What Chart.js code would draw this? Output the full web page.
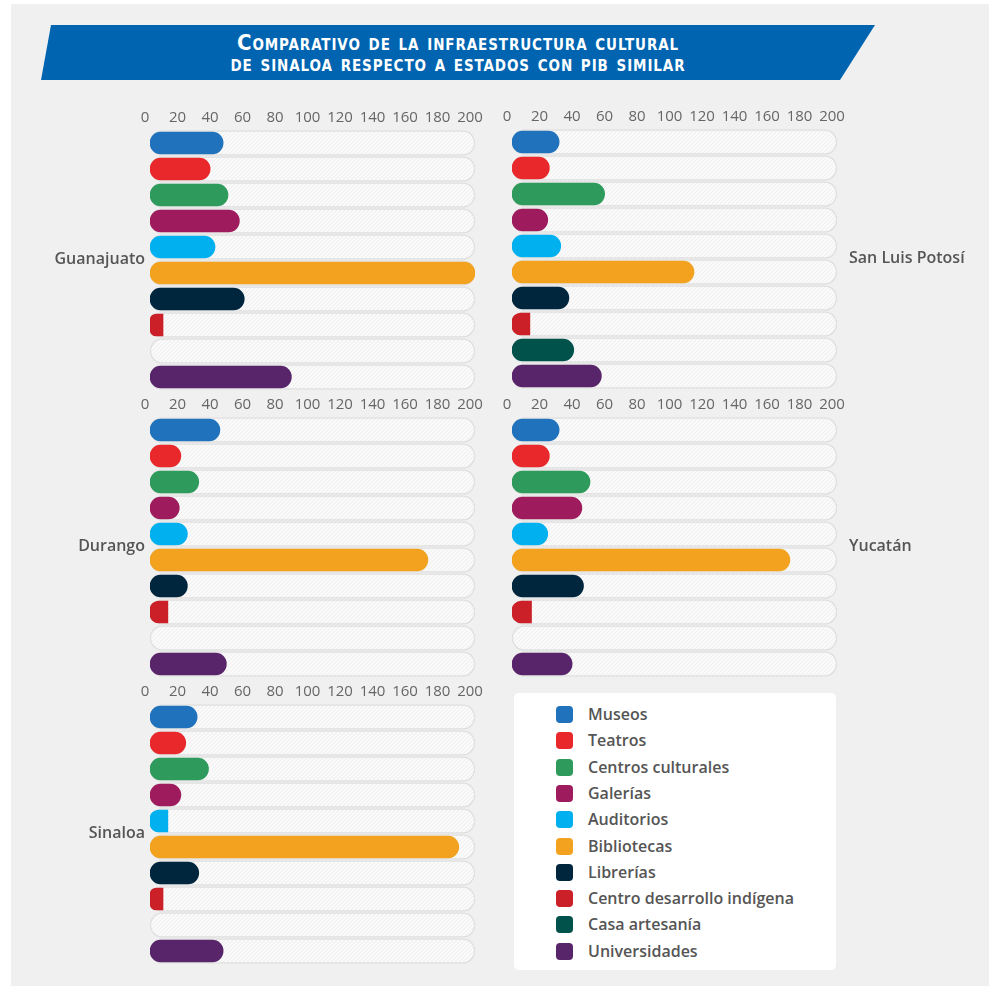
<!DOCTYPE html>
<html>
<head>
<meta charset="utf-8">
<script src="https://cdn.jsdelivr.net/npm/chart.js@4.4.1/dist/chart.umd.min.js"></script>
<style>
  html, body { margin: 0; padding: 0; background: #ffffff; }
  body { width: 989px; height: 986px; position: relative; overflow: hidden; font-family: "Open Sans", "Noto Sans", sans-serif; }
  #bg { position: absolute; left: 11px; top: 4px; width: 978px; height: 982px; background: #f0f0f0; }
  #banner { position: absolute; left: 41px; top: 25px; width: 834px; height: 55px; background: #0064b0;
            clip-path: polygon(10px 0, 834px 0, 799px 55px, 0 55px); }
  #title { position: absolute; left: 41px; top: 32px; width: 834px; text-align: center; color: #fff;
           font-family: "DejaVu Sans Condensed", "DejaVu Sans", sans-serif; font-stretch: condensed; font-weight: bold;
           font-variant: small-caps; font-size: 22px; line-height: 21px; letter-spacing: 0.9px; }
  #title .l2 { text-transform: lowercase; }
  canvas { position: absolute; }
  .state { position: absolute; font-weight: 600; font-size: 16px; color: #555; line-height: 20px; white-space: nowrap; }
  .state.r { text-align: right; }
  #legend { position: absolute; left: 514px; top: 693px; width: 322px; height: 277px; background: #fff; border-radius: 5px; }
  .li { position: absolute; left: 42px; height: 20px; line-height: 20px; font-weight: 600; font-size: 16px; color: #555; white-space: nowrap; }
  .li span.sw { position: absolute; left: 0; top: 2px; width: 17px; height: 17px; border-radius: 4px; }
  .li span.tx { position: absolute; left: 32px; top: 0; }
</style>
</head>
<body>
<div id="bg"></div>
<div id="banner"></div>
<div id="title"><div>Comparativo de la infraestructura cultural</div><div class="l2">de Sinaloa respecto a estados con PIB similar</div></div>
<div id="legend"></div>
<script>
// ---------- DATA ----------
const categories = ['Museos', 'Teatros', 'Centros culturales', 'Galerías', 'Auditorios', 'Bibliotecas', 'Librerías', 'Centro desarrollo indígena', 'Casa artesanía', 'Universidades'];
const states = ['Guanajuato', 'San Luis Potosí', 'Durango', 'Yucatán', 'Sinaloa'];
const guanajuato    = [45, 37, 48, 55, 40, 200, 58, 8, 0, 87];
const sanLuisPotosi = [29, 23, 57, 22, 30, 112, 35, 11, 38, 55];
const durango       = [43, 19, 30, 18, 23, 171, 23, 11, 0, 47];
const yucatan       = [29, 23, 48, 43, 22, 171, 44, 12, 0, 37];
const sinaloa       = [29, 22, 36, 19, 11, 190, 30, 8, 0, 45];
const tickValues    = [0, 20, 40, 60, 80, 100, 120, 140, 160, 180, 200];
const axisMax = 200;

// ---------- STYLES ----------
const colors = ['#1f72bb', '#e8282b', '#2e9a5b', '#9e1c5e', '#00b0ef', '#f3a21f', '#00263e', '#cb2027', '#00524a', '#58246a'];

// panel layout: plot area in page pixels
const panels = [
  { data: guanajuato,    x0: 150, x1: 475, top: 127,   bottom: 389.5, label: 'left' },
  { data: sanLuisPotosi, x0: 512, x1: 837, top: 125.5, bottom: 388,   label: 'right' },
  { data: durango,       x0: 150, x1: 475, top: 414,   bottom: 676.5, label: 'left' },
  { data: yucatan,       x0: 512, x1: 837, top: 414,   bottom: 676.5, label: 'right' },
  { data: sinaloa,       x0: 150, x1: 475, top: 701,   bottom: 963.5, label: 'left' }
];

function makeTrackPattern() {
  const c = document.createElement('canvas');
  c.width = 4; c.height = 4;
  const g = c.getContext('2d');
  g.fillStyle = '#fafafa';
  g.fillRect(0, 0, 4, 4);
  g.strokeStyle = '#ebebeb';
  g.lineWidth = 0.8;
  g.beginPath();
  g.moveTo(0, 4); g.lineTo(4, 0);
  g.moveTo(-1, 1); g.lineTo(1, -1);
  g.moveTo(3, 5); g.lineTo(5, 3);
  g.stroke();
  return g.createPattern(c, 'repeat');
}
const trackPattern = makeTrackPattern();

const PADX = 20, PADTOP = 5, AXISH = 21, PADBOT = 4;

panels.forEach((p, i) => {
  const cv = document.createElement('canvas');
  const w = (p.x1 - p.x0) + 2 * PADX;
  const h = (p.bottom - p.top) + PADTOP + AXISH + PADBOT;
  cv.width = Math.round(w); cv.height = Math.round(h);
  cv.style.left = (p.x0 - PADX) + 'px';
  cv.style.top = (p.top - PADTOP - AXISH) + 'px';
  document.body.appendChild(cv);

  new Chart(cv.getContext('2d'), {
    type: 'bar',
    data: {
      labels: categories,
      datasets: [
        {
          data: p.data,
          backgroundColor: (ctx) => (ctx.raw > 0 ? colors[ctx.dataIndex] : 'rgba(0,0,0,0)'),
          barThickness: 22,
          borderSkipped: false,
          borderRadius: (ctx) => (ctx.raw !== undefined && ctx.raw < 14)
            ? { topLeft: 11, bottomLeft: 11, topRight: 0, bottomRight: 0 } : 11,
          grouped: false,
          order: 1
        },
        {
          data: categories.map(() => axisMax),
          backgroundColor: trackPattern,
          borderColor: '#e0e0e0',
          borderWidth: 1.5,
          barThickness: 25,
          borderSkipped: false,
          borderRadius: 12.5,
          grouped: false,
          order: 2
        }
      ]
    },
    options: {
      indexAxis: 'y',
      responsive: false,
      animation: false,
      devicePixelRatio: 1,
      layout: { padding: { left: PADX, right: PADX, top: PADTOP, bottom: PADBOT } },
      plugins: { legend: { display: false }, tooltip: { enabled: false } },
      scales: {
        x: {
          position: 'top',
          min: 0, max: axisMax,
          afterBuildTicks: (axis) => { axis.ticks = tickValues.map(v => ({ value: v })); },
          grid: { display: false, drawTicks: false },
          border: { display: false },
          ticks: { autoSkip: false, maxRotation: 0, padding: 3, labelOffset: -5,
                   color: '#666', font: { family: 'Open Sans', size: 15 } }
        },
        y: { display: false }
      }
    }
  });

  const lab = document.createElement('div');
  lab.className = 'state' + (p.label === 'left' ? ' r' : '');
  lab.textContent = states[i];
  const cy = (p.top + p.bottom) / 2;
  lab.style.top = (cy - 10) + 'px';
  if (p.label === 'left') { lab.style.right = (989 - (p.x0 - 5)) + 'px'; }
  else { lab.style.left = (p.x1 + 12) + 'px'; }
  document.body.appendChild(lab);
});

// legend
const legend = document.getElementById('legend');
categories.forEach((c, i) => {
  const d = document.createElement('div');
  d.className = 'li';
  d.style.top = (11 + i * 26.3) + 'px';
  d.innerHTML = '<span class="sw" style="background:' + colors[i] + '"></span><span class="tx"></span>';
  d.querySelector('.tx').textContent = c;
  legend.appendChild(d);
});
</script>
</body>
</html>
